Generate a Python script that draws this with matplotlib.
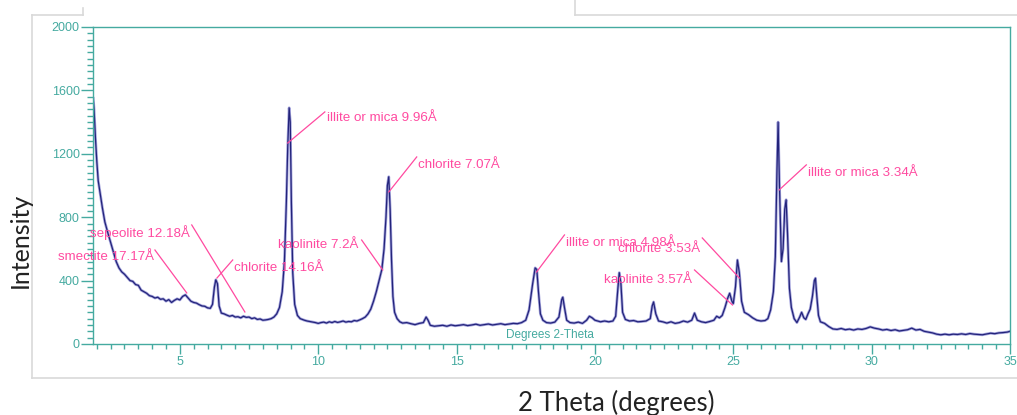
import matplotlib
matplotlib.use("Agg")
import matplotlib.pyplot as plt
from matplotlib.lines import Line2D
from matplotlib.ticker import MultipleLocator

# Patron de difraccion (2 theta, intensidad)
two_theta = [
    1.87, 1.90, 1.95, 2.00, 2.05, 2.12, 2.20, 2.29, 2.40, 2.50, 2.60, 2.70, 2.80, 2.90,
    3.00, 3.10, 3.20, 3.30, 3.40, 3.50, 3.60, 3.70, 3.80, 3.90, 4.00, 4.10, 4.20, 4.30,
    4.40, 4.50, 4.60, 4.70, 4.80, 4.90, 5.00, 5.10, 5.20, 5.30, 5.40, 5.50, 5.60, 5.70,
    5.80, 5.90, 6.00, 6.10, 6.18, 6.25, 6.30, 6.36, 6.42, 6.50, 6.60, 6.70, 6.80, 6.90,
    7.00, 7.10, 7.20, 7.30, 7.40, 7.50, 7.60, 7.70, 7.80, 7.90, 8.00, 8.10, 8.20, 8.30,
    8.40, 8.50, 8.60, 8.70, 8.78, 8.85, 8.90, 8.95, 8.99, 9.03, 9.08, 9.15, 9.25, 9.35,
    9.50, 9.60, 9.75, 9.90, 10.00, 10.10, 10.20, 10.30, 10.40, 10.50, 10.60, 10.70,
    10.80, 10.90, 11.00, 11.10, 11.20, 11.30, 11.40, 11.50, 11.60, 11.70, 11.80, 11.90,
    12.00, 12.10, 12.20, 12.30, 12.38, 12.45, 12.50, 12.55, 12.60, 12.65, 12.70, 12.76,
    12.85, 12.95, 13.05, 13.20, 13.35, 13.50, 13.65, 13.80, 13.90, 13.97, 14.05, 14.20,
    14.35, 14.50, 14.65, 14.80, 14.95, 15.10, 15.25, 15.40, 15.55, 15.70, 15.85, 16.00,
    16.15, 16.30, 16.45, 16.60, 16.75, 16.90, 17.05, 17.20, 17.35, 17.50, 17.62, 17.75,
    17.84, 17.90, 17.96, 18.03, 18.12, 18.25, 18.40, 18.55, 18.70, 18.80, 18.84, 18.90,
    18.98, 19.10, 19.25, 19.40, 19.55, 19.70, 19.80, 19.90, 20.00, 20.10, 20.20, 20.35,
    20.50, 20.65, 20.75, 20.83, 20.88, 20.94, 21.00, 21.10, 21.25, 21.40, 21.55, 21.70,
    21.85, 22.00, 22.07, 22.12, 22.20, 22.30, 22.45, 22.60, 22.75, 22.90, 23.05, 23.20,
    23.35, 23.50, 23.60, 23.70, 23.85, 24.00, 24.15, 24.30, 24.40, 24.50, 24.60, 24.70,
    24.80, 24.87, 24.95, 25.00, 25.08, 25.15, 25.22, 25.30, 25.40, 25.55, 25.70, 25.85,
    26.00, 26.15, 26.25, 26.35, 26.45, 26.52, 26.58, 26.62, 26.67, 26.74, 26.80, 26.86,
    26.91, 26.96, 27.03, 27.10, 27.20, 27.30, 27.40, 27.47, 27.55, 27.62, 27.70, 27.78,
    27.86, 27.93, 27.97, 28.02, 28.08, 28.15, 28.30, 28.45, 28.60, 28.75, 28.90, 29.05,
    29.20, 29.35, 29.50, 29.65, 29.80, 29.95, 30.10, 30.25, 30.40, 30.55, 30.70, 30.85,
    31.00, 31.15, 31.30, 31.45, 31.60, 31.75, 31.90, 32.05, 32.20, 32.35, 32.50, 32.65,
    32.80, 32.95, 33.10, 33.25, 33.40, 33.55, 33.70, 33.85, 34.00, 34.15, 34.30, 34.45,
    34.60, 34.75, 34.90, 35.00,
]
intensity = [
    1550, 1480, 1300, 1150, 1030, 950, 860, 770, 700, 640, 580, 520, 480, 455,
    440, 420, 400, 395, 375, 370, 340, 330, 320, 305, 300, 290, 295, 282,
    285, 270, 280, 262, 275, 285, 278, 300, 310, 290, 270, 262, 258, 248,
    240, 238, 228, 225, 250, 360, 405, 380, 240, 195, 190, 182, 175, 180,
    170, 172, 165, 175, 168, 170, 160, 165, 155, 158, 150, 152, 155, 160,
    170, 190, 230, 330, 520, 900, 1250, 1490, 1400, 900, 450, 250, 180, 160,
    150, 145, 140, 135, 130, 135, 138, 132, 140, 135, 142, 136,
    140, 145, 138, 142, 140, 148, 145, 152, 160, 170, 190, 220,
    270, 330, 400, 470, 600, 800, 1000, 1055, 850, 530, 300, 200,
    160, 140, 132, 135, 128, 122, 130, 135, 170, 150, 118, 112,
    115, 118, 112, 120, 115, 118, 122, 116, 120, 125, 118, 122,
    126, 120, 124, 128, 122, 126, 130, 128, 135, 150, 215, 380,
    480, 470, 330, 190, 150, 135, 132, 138, 170, 280, 295, 230,
    150, 135, 132, 138, 130, 150, 175, 165, 150, 145, 140, 145,
    140, 145, 175, 350, 450, 380, 200, 155, 145, 148, 140, 142,
    145, 160, 240, 265, 190, 145, 140, 132, 140, 130, 135, 145,
    138, 150, 195, 150, 140, 135, 142, 150, 175, 165, 180, 230,
    290, 320, 270, 255, 360, 530, 450, 270, 200, 185, 165, 150,
    145, 148, 160, 215, 330, 550, 1100, 1400, 1000, 520, 600, 850,
    910, 700, 350, 230, 160, 135, 170, 200, 165, 155, 190, 220,
    300, 400, 415, 300, 180, 140, 130, 110, 95, 92, 98, 90,
    94, 88, 95, 92, 98, 108, 100, 95, 88, 92, 85, 90,
    82, 86, 90, 100, 88, 92, 80, 75, 70, 62, 58, 62,
    58, 62, 60, 64, 60, 66, 62, 60, 58, 63, 68, 65,
    70, 72, 75, 80,
]

# Etiquetas de fases: punto del pico, final de la linea, posicion del texto
labels = ["illite or mica 9.96Å", "chlorite 7.07Å", "kaolinite 7.2Å",
          "sepeolite 12.18Å", "smectite 17.17Å", "chlorite 14.16Å",
          "illite or mica 4.98Å", "chlorite 3.53Å", "kaolinite 3.57Å",
          "illite or mica 3.34Å"]
peak_x = [8.90, 12.55, 12.33, 7.35, 5.25, 6.34, 17.89, 25.22, 24.97, 26.66]
peak_y = [1268, 959, 467, 202, 322, 416, 454, 416, 246, 972]
end_x = [10.24, 13.56, 11.57, 5.43, 4.10, 6.91, 18.90, 23.88, 23.60, 27.64]
end_y = [1464, 1180, 656, 751, 593, 530, 688, 669, 467, 1130]
text_x = [10.30, 13.60, 11.45, 5.36, 4.06, 6.97, 18.96, 23.80, 23.52, 27.70]
text_y = [1426, 1130, 625, 700, 549, 480, 637, 600, 404, 1079]
text_ha = ["left", "left", "right", "right", "right", "left", "left", "right",
           "right", "left"]

x_ticks = [5, 10, 15, 20, 25, 30, 35]
y_ticks = [0, 400, 800, 1200, 1600, 2000]

teal = "#45aaa0"
pink = "#ff4aa0"
navy = "#23237a"

fig = plt.figure(figsize=(10.17, 4.15), dpi=100)
ax = fig.add_axes([0.0914, 0.1711, 0.9017, 0.7639])

ax.plot(two_theta, intensity, color="#a4a4dc", lw=2.0, solid_joinstyle="round")
ax.plot(two_theta, intensity, color=navy, lw=0.9)

for i in range(len(labels)):
    ax.plot([peak_x[i], end_x[i]], [peak_y[i], end_y[i]], color=pink, lw=0.9,
            clip_on=False)
    ax.text(text_x[i], text_y[i], labels[i], color=pink, fontsize=9.6,
            family="Liberation Sans", ha=text_ha[i], va="center")

ax.text(18.36, 57, "Degrees 2-Theta", color=teal, fontsize=8.5,
        family="Liberation Sans", ha="center", va="center")

ax.set_xlim(1.86, 35)
ax.set_ylim(0, 2000)
ax.set_xticks(x_ticks)
ax.set_yticks(y_ticks)
ax.xaxis.set_minor_locator(MultipleLocator(0.5))
ax.yaxis.set_minor_locator(MultipleLocator(40))
for s in ax.spines.values():
    s.set_color(teal)
    s.set_linewidth(1.0)
ax.tick_params(axis="both", which="both", colors=teal, direction="out")
ax.tick_params(axis="x", which="major", length=7, width=1, pad=2)
ax.tick_params(axis="x", which="minor", length=3.5, width=1)
ax.tick_params(axis="y", which="major", length=8.5, width=1, pad=1)
ax.tick_params(axis="y", which="minor", length=4, width=1)
for lab in ax.get_xticklabels() + ax.get_yticklabels():
    lab.set_family("Liberation Sans")
    lab.set_fontsize(9)

# marco gris exterior
gray = "#d9d9d9"
for (x0, y0, x1, y1) in [(32, 15, 32, 378), (32, 378, 1017, 378),
                         (32, 15, 83, 15), (83, 8, 83, 15),
                         (575, 15, 1017, 15), (575, 0, 575, 15)]:
    fig.add_artist(Line2D([x0 / 1017, x1 / 1017], [1 - y0 / 415, 1 - y1 / 415],
                          color=gray, lw=1.2))

fig.text(20 / 1017, 1 - 240 / 415, "Intensity", rotation=90, ha="center",
         va="center", fontsize=18, family="Lato", color="#222222")
fig.text(616 / 1017, 1 - 403 / 415, "2 Theta (degrees)", ha="center",
         va="center", fontsize=18.5, family="Lato", color="#222222")

fig.savefig("out.png", dpi=100)
